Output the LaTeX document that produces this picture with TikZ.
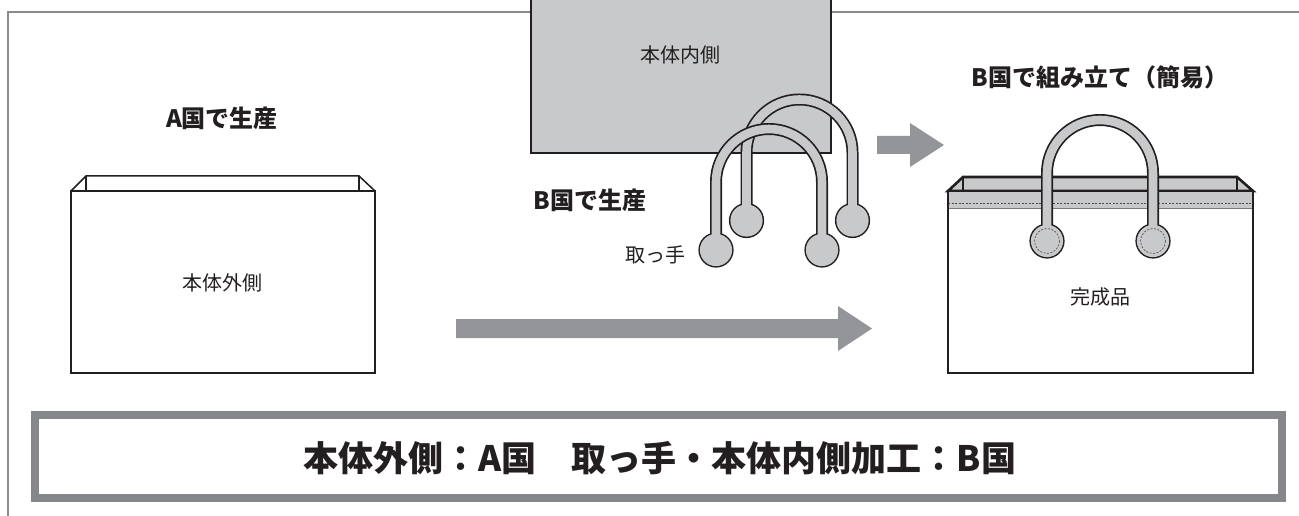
\documentclass[tikz,border=0pt]{standalone}
\usepackage{fontspec}
\setmainfont{Noto Sans CJK JP}
\definecolor{ink}{HTML}{231F20}
\definecolor{lg}{HTML}{C8C9CA}
\definecolor{arrowgray}{HTML}{939598}
\definecolor{bannergray}{HTML}{86878A}
\definecolor{framegray}{HTML}{8A8A8A}
\tikzset{
  bagline/.style={draw=ink, line width=2.6pt, line join=miter},
  thinline/.style={draw=ink, line width=1.5pt},
  stitch/.style={draw=ink!80, line width=0.6pt, dash pattern=on 2pt off 1.5pt},
  title/.style={text=ink, font=\bfseries\fontsize{24pt}{28pt}\selectfont, inner sep=0pt},
  label/.style={text=ink, font=\fontsize{20pt}{24pt}\selectfont, inner sep=0pt},
  handlepic/.pic={
    \draw[line width=12pt, draw=ink] (-53,68) -- (-53,0) arc[start angle=180, end angle=360, radius=53] -- (53,68);
    \fill[ink] (-53,68) circle[radius=17.6] (53,68) circle[radius=17.6];
    \draw[line width=8.6pt, draw=lg] (-53,68) -- (-53,0) arc[start angle=180, end angle=360, radius=53] -- (53,68);
    \fill[lg] (-53,68) circle[radius=16.1] (53,68) circle[radius=16.1];
  }
}
\begin{document}
\begin{tikzpicture}[x=1pt, y=-1pt]
\useasboundingbox (0,0) rectangle (1299,516);
\fill[white] (0,0) rectangle (1299,516);
% outer frame
\draw[framegray, line width=1.2pt] (8,516) -- (8,12) -- (1299,12);

% left bag (A)
\draw[thinline, line join=miter] (71,191) -- (86,176) -- (359,176) -- (375,191);
\draw[thinline] (86,176) -- (86,191) (359,176) -- (359,191);
\draw[bagline, fill=white] (71,191) rectangle (375,373);

% inner body box
\draw[bagline, fill=lg] (531,-5) rectangle (831,153);

% handles (B)
\pic at (799.5,152.5) {handlepic};
\pic at (769,182) {handlepic};

% arrows
\fill[arrowgray] (877,136) -- (910,136) -- (910,123) -- (944,145) -- (910,167) -- (910,154) -- (877,154) -- cycle;
\fill[arrowgray] (456,319) -- (838,319) -- (838,306) -- (872,328.5) -- (838,351) -- (838,338) -- (456,338) -- cycle;

% final bag
\draw[bagline, fill=lg] (948,191) -- (963,177) -- (1237,177) -- (1253,191) -- cycle;
\draw[thinline] (963,177) -- (963,191) (1237,177) -- (1237,191);
\fill[white] (948,191) rectangle (1253,373);
\fill[lg] (948,191) rectangle (1253,208);
\draw[ink!60, line width=0.8pt] (948,208) -- (1253,208);
\draw[stitch] (948,203) -- (1253,203);
\draw[bagline] (948,191) rectangle (1253,373);
\pic at (1100,173) {handlepic};
\draw[stitch] (1047,241) circle[radius=12.5] (1153,241) circle[radius=12.5];

% texts
\node[title] (tA) at (222,118) {A国で生産};
\node[label] (outer) at (222,283) {本体外側};
\node[label] (inner) at (680,55) {本体内側};
\node[title] (tB) at (590,200) {B国で生産};
\node[label] (hl) at (655,255) {取っ手};
\node[title] (tC) at (1100,77) {B国で組み立て（簡易）};
\node[label] (done) at (1100,297) {完成品};

% banner
\draw[bannergray, line width=7.5pt] (35,415) rectangle (1282,498);
\node[text=ink, font=\bfseries\fontsize{35pt}{40pt}\selectfont, inner sep=0pt] (ban) at (660,458) {本体外側：A国　取っ手・本体内側加工：B国};
\end{tikzpicture}
\end{document}
